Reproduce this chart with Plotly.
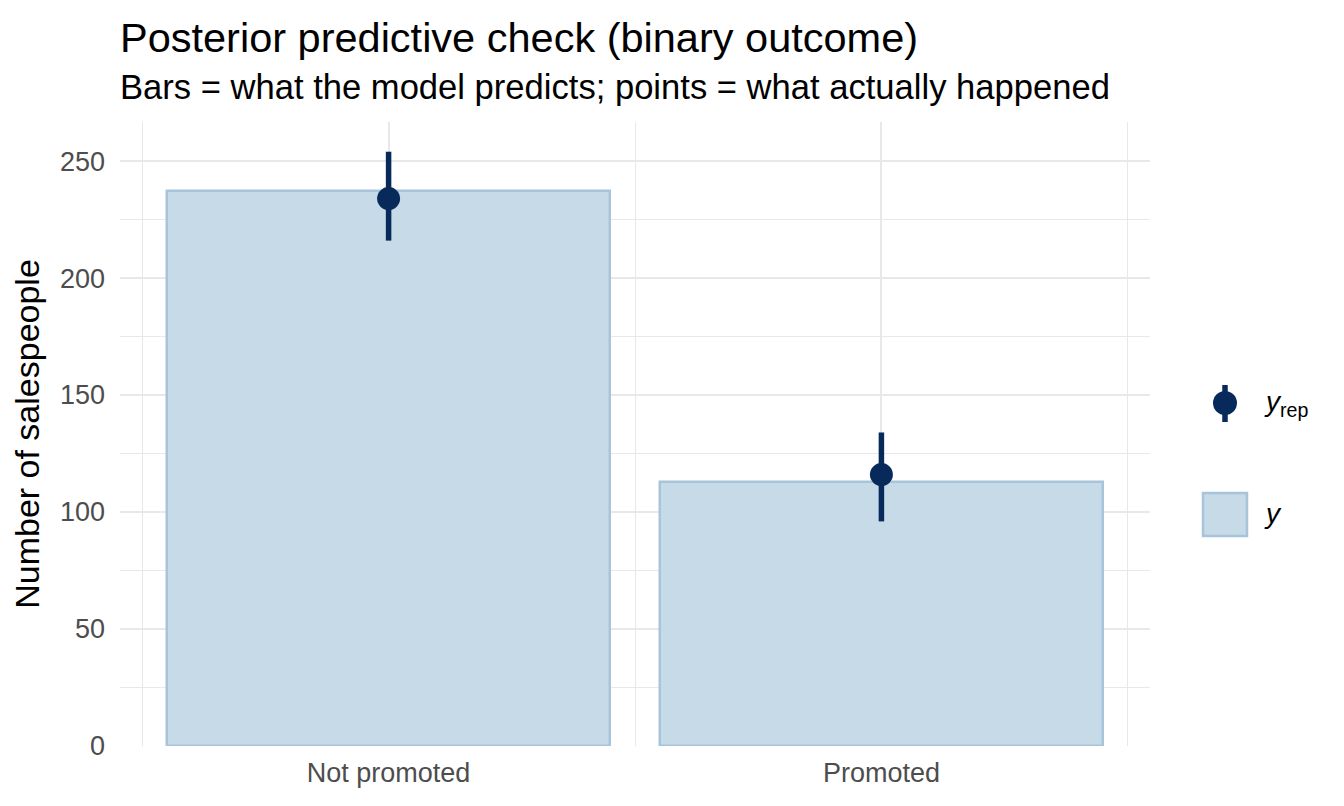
import plotly.graph_objects as go

# posterior predictive check data
categories = ["Not promoted", "Promoted"]
observed_y = [237, 113]          # bars: y
yrep_median = [234, 116]         # points: y_rep
yrep_low = [216, 96]
yrep_high = [254, 134]

fill_light = "#c6dae8"
line_light = "#a7c4db"
dark = "#082a5b"
grid = "#e8e8e8"
font_family = "Liberation Sans, Arial, sans-serif"

x_pos = list(range(len(categories)))

fig = go.Figure()

fig.add_trace(go.Bar(
    x=x_pos, y=observed_y, width=0.9,
    marker=dict(color=fill_light, line=dict(color=line_light, width=2.5)),
    showlegend=False, hoverinfo="skip",
))

fig.add_trace(go.Scatter(
    x=x_pos, y=yrep_median, mode="markers",
    marker=dict(color=dark, size=23),
    error_y=dict(
        type="data", symmetric=False,
        array=[h - m for h, m in zip(yrep_high, yrep_median)],
        arrayminus=[m - l for m, l in zip(yrep_median, yrep_low)],
        color=dark, thickness=5.5, width=0,
    ),
    showlegend=False,
))

# page has an 8px body margin; coordinates below are screen pixels
OFF = 8
FW, FH = 1344 - OFF, 806 - OFF
L, R, T, B = 120, 1150, 122, 746
W, H = R - L, B - T

def px(x):
    return (x - L) / W

def py(y):
    return (B - y) / H

shapes = [
    # legend: point range glyph
    dict(type="line", xref="paper", yref="paper",
         x0=px(1225), x1=px(1225), y0=py(385), y1=py(422),
         line=dict(color=dark, width=5.5)),
    dict(type="circle", xref="paper", yref="paper",
         x0=px(1213), x1=px(1237), y0=py(391), y1=py(415),
         fillcolor=dark, line=dict(color=dark, width=0)),
    # legend: bar glyph
    dict(type="rect", xref="paper", yref="paper",
         x0=px(1203), x1=px(1247), y0=py(493), y1=py(536),
         fillcolor=fill_light, line=dict(color=line_light, width=2.5)),
]

annotations = [
    dict(text="Posterior predictive check (binary outcome)", xref="paper", yref="paper",
         x=0, y=py(37), xanchor="left", yanchor="middle", showarrow=False,
         xshift=-2, font=dict(size=41.5, color="black", family=font_family)),
    dict(text="Bars = what the model predicts; points = what actually happened",
         xref="paper", yref="paper", x=0, y=py(87), xanchor="left", yanchor="middle",
         showarrow=False, xshift=-2, font=dict(size=34.6, color="black", family=font_family)),
    dict(text="<i>y</i><sub>rep</sub>", xref="paper", yref="paper",
         x=px(1262), y=py(403), xanchor="left", yanchor="middle", showarrow=False,
         font=dict(size=28, color="black", family=font_family)),
    dict(text="<i>y</i>", xref="paper", yref="paper",
         x=px(1262), y=py(513), xanchor="left", yanchor="middle", showarrow=False,
         font=dict(size=28, color="black", family=font_family)),
]

fig.update_layout(
    width=FW, height=FH,
    margin=dict(l=L - OFF, r=FW - (R - OFF), t=T - OFF, b=FH - (B - OFF), autoexpand=False),
    paper_bgcolor="white", plot_bgcolor="white",
    font=dict(family=font_family, color="#4d4d4d"),
    shapes=shapes, annotations=annotations,
    showlegend=False, bargap=0,
)

fig.update_xaxes(
    range=[-0.545, 1.545], tickmode="array", tickvals=x_pos, ticktext=categories,
    showgrid=True, gridcolor=grid, gridwidth=2.4, zeroline=False,
    showline=False, ticks="", ticklabelstandoff=8,
    tickfont=dict(size=27, color="#4d4d4d"),
    minor=dict(tickmode="array", tickvals=[-0.5, 0.5, 1.5], showgrid=True,
               gridcolor=grid, gridwidth=1.2),
)

fig.update_yaxes(
    range=[0, max(yrep_high) * 1.05], tickmode="linear", tick0=0, dtick=50,
    showgrid=True, gridcolor=grid, gridwidth=2.4, zeroline=False,
    showline=False, ticks="", ticklabelstandoff=14,
    tickfont=dict(size=27, color="#4d4d4d"),
    minor=dict(tickmode="linear", tick0=25, dtick=50, showgrid=True,
               gridcolor=grid, gridwidth=1.2),
    title=dict(text="Number of salespeople", standoff=14,
               font=dict(size=34, color="black", family=font_family)),
)

fig.write_html("out.html")
